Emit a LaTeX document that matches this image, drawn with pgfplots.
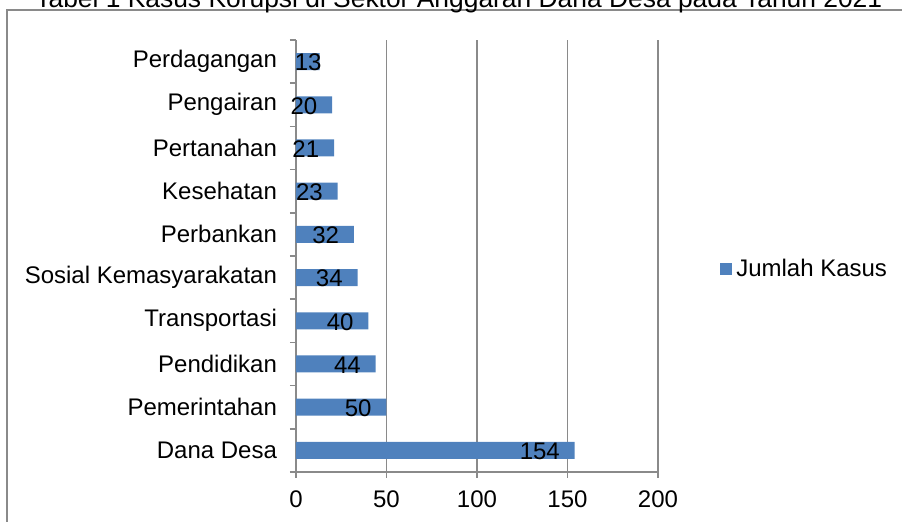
\documentclass[border=0pt]{standalone}
\usepackage{pgfplots}
\pgfplotsset{compat=1.18}
\usepackage{fontspec}
\setmainfont{Liberation Sans}
\definecolor{barblue}{HTML}{4F81BD}
\definecolor{axgray}{HTML}{8A8A8A}
\newcommand\fa{\fontsize{12}{14.4}\selectfont}
\begin{document}
\begin{tikzpicture}[x=1pt,y=1pt]
\draw[axgray, line width=0.8pt] (3.5,-30) -- (3.5,256) -- (520,256);
\node[anchor=base west, inner sep=0pt, font=\fontsize{13.2}{15}\selectfont] at (17.5,257) {Tabel 1 Kasus Korupsi di Sektor Anggaran Dana Desa pada Tahun 2021};
\begin{axis}[
  at={(148pt,25pt)}, anchor=south west,
  scale only axis, width=181pt, height=216pt,
  xbar, bar width=8.5pt,
  xmin=0, xmax=200, ymin=-0.5, ymax=9.5,
  xtick={0,50,100,150,200},
  ytick={-0.5,0.5,...,9.5}, yticklabels={},
  extra y ticks={0,1,2,3,4,5,6,7,8,9},
  extra y tick labels={Dana Desa, Pemerintahan, Pendidikan, Transportasi, Sosial Kemasyarakatan, Perbankan, Kesehatan, Pertanahan, Pengairan, Perdagangan},
  extra y tick style={major tick length=0pt, yticklabel style={xshift=-6pt}},
  tick align=outside, major tick length=3pt,
  axis x line*=bottom, axis y line*=left,
  axis line style={axgray, line width=0.8pt, -},
  every tick/.style={axgray, line width=0.8pt},
  xmajorgrids, major grid style={axgray, line width=0.8pt},
  ticklabel style={font=\fa},
  /pgf/number format/assume math mode=true,
  x tick label style={yshift=-3pt},
  nodes near coords,
  visualization depends on={x \as \rawx},
  every node near coord/.append style={font=\fa, black, anchor=east, inner sep=0pt, yshift=-0.5pt, xshift={ifthenelse(\rawx<15,1.2,-7.25)}},
  legend entries={Jumlah Kasus},
  legend style={at={(1.171,0.47)}, anchor=west, draw=none, fill=none, font=\fa, inner sep=0pt, row sep=0pt},
  legend image code/.code={\fill[barblue] (0pt,-3pt) rectangle (6pt,3pt);},
]
\addplot[fill=barblue, draw=none] coordinates {
(154,0) (50,1) (44,2) (40,3) (34,4) (32,5) (23,6) (21,7) (20,8) (13,9)
};
\end{axis}
\pgfresetboundingbox
\useasboundingbox (0,0) rectangle (451,261);
\end{tikzpicture}
\end{document}
